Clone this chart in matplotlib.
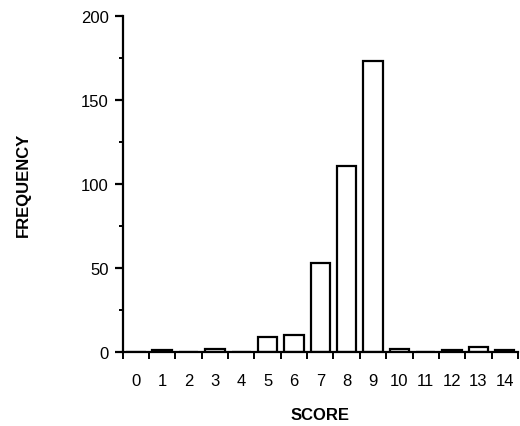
import matplotlib.pyplot as plt
import numpy as np

# Score histogram values
scores = list(range(15))
frequency = [0, 1, 0, 2, 0, 9, 10, 53, 111, 173, 2, 0, 1, 3, 1]

plt.rcParams['font.family'] = ['Liberation Sans', 'DejaVu Sans']

fig = plt.figure(figsize=(5.2, 4.27), dpi=100)
ax = fig.add_axes([0.236, 0.173, 0.76, 0.787])

ax.bar(scores, frequency, width=0.74, color='white', edgecolor='black', linewidth=1.6)

ax.set_xlim(-0.5, 14.5)
ax.set_ylim(0, 200)

ax.spines['top'].set_visible(False)
ax.spines['right'].set_visible(False)
ax.spines['left'].set_linewidth(1.6)
ax.spines['bottom'].set_linewidth(1.6)

# y ticks: labelled every 50, minor every 25
ax.set_yticks([0, 50, 100, 150, 200])
ax.set_yticks([25, 75, 125, 175], minor=True)
ax.tick_params(axis='y', which='major', direction='out', length=6, width=1.6,
               labelsize=12, pad=4)
ax.tick_params(axis='y', which='minor', direction='out', length=3, width=1.4)

# x: labels at bar centres, tick marks at bin edges
ax.set_xticks(scores)
ax.set_xticklabels([str(s) for s in scores])
ax.set_xticks(np.arange(-0.5, 15, 1), minor=True)
ax.tick_params(axis='x', which='major', length=0, labelsize=12, pad=15)
ax.tick_params(axis='x', which='minor', direction='out', length=5, width=1.4)

ax.set_xlabel('SCORE', fontsize=12, fontweight='bold', labelpad=14)
ax.set_ylabel('FREQUENCY', fontsize=12, fontweight='bold', labelpad=36)

plt.savefig('out.png', dpi=100)
